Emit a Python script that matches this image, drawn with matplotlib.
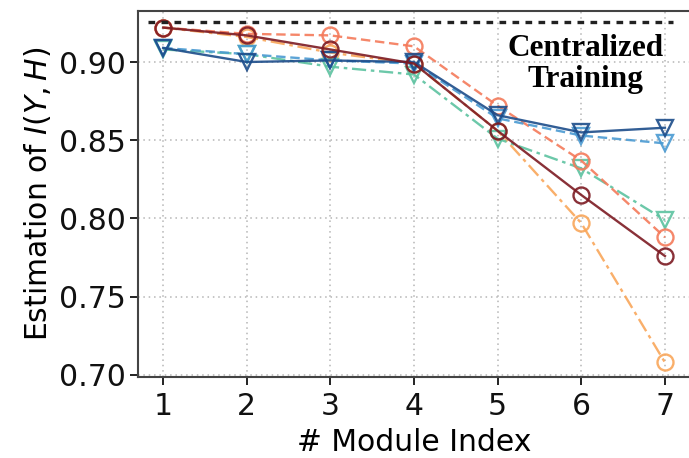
import matplotlib
matplotlib.use("Agg")
import matplotlib.pyplot as plt

# ----------------------------------------------------------------------
# Data
# ----------------------------------------------------------------------

module_idx = [1, 2, 3, 4, 5, 6, 7]

dark_red = [0.922, 0.917, 0.908, 0.899, 0.856, 0.815, 0.776]
salmon = [0.922, 0.918, 0.917, 0.910, 0.872, 0.837, 0.788]
orange = [0.922, 0.916, 0.906, 0.899, 0.856, 0.797, 0.708]
dark_blue = [0.909, 0.900, 0.901, 0.900, 0.866, 0.855, 0.858]
light_blue = [0.909, 0.905, 0.901, 0.899, 0.864, 0.853, 0.848]
teal = [0.908, 0.905, 0.897, 0.892, 0.851, 0.832, 0.799]

centralized = 0.9255
yticks = [0.70, 0.75, 0.80, 0.85, 0.90]

# (values, color, linestyle, marker, zorder)
SERIES = [
    (orange, "#f9a65a", (0, (6, 2, 1.5, 2)), "o", 3),
    (salmon, "#f47a5a", (0, (4, 2)), "o", 4),
    (teal, "#5cc2a0", (0, (6, 2, 1.5, 2)), "v", 3),
    (light_blue, "#4a9ad2", (0, (4, 2)), "v", 4),
    (dark_blue, "#1c4c8a", "-", "v", 5),
    (dark_red, "#7c1a22", "-", "o", 6),
]

fig = plt.figure(figsize=(6.89, 4.58), dpi=100)
ax = fig.add_axes([0.2003, 0.1769, 0.8012, 0.7991])

for vals, color, ls, marker, z in SERIES:
    ax.plot(module_idx, vals, color=color, linestyle=ls, linewidth=1.7,
            marker=marker, markersize=11.5, markerfacecolor="none",
            markeredgewidth=1.7, alpha=0.9, zorder=z)

ax.hlines(centralized, 0.82, 7.1, colors="#222222", linewidth=2.4,
          linestyles=(0, (2, 1.9)), zorder=7)
ax.text(6.05, 0.8987, "Centralized\nTraining", ha="center", va="center",
        fontsize=22.5, fontweight="bold", family="Liberation Serif",
        linespacing=1.12, zorder=8)

ax.set_xlim(0.7, 7.3)
ax.set_ylim(0.6987, 0.9326)
ax.set_xticks(module_idx)
ax.set_yticks(yticks)
ax.set_yticklabels([f"{v:.2f}" for v in yticks])
ax.tick_params(labelsize=21.5, length=6, width=1.3, colors="#111111", pad=3)
ax.tick_params(axis="x", pad=5)

ax.grid(True, linestyle=(0, (1, 2.5)), color="#b5b5b5", linewidth=1.1)
ax.set_axisbelow(True)
for s in ax.spines.values():
    s.set_color("#444444")
    s.set_linewidth(1.5)

ax.set_xlabel("# Module Index", fontsize=21.5, labelpad=5)
ax.set_ylabel("Estimation of $I(Y,H)$", fontsize=21.5, labelpad=4)

fig.savefig("out.png", dpi=100)
